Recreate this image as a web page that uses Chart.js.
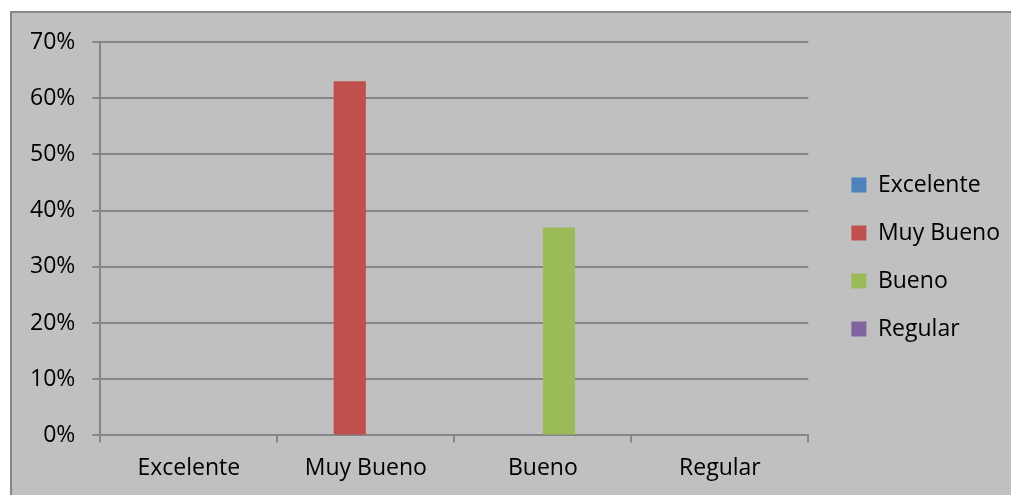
<!DOCTYPE html>
<html>
<head>
<meta charset="utf-8">
<script src="https://cdn.jsdelivr.net/npm/chart.js@4/dist/chart.umd.min.js"></script>
<style>
  html, body { margin: 0; padding: 0; background: #fff; }
  #wrap { position: relative; width: 1011px; height: 495px; }
</style>
</head>
<body>
<div id="wrap"><canvas id="chart"></canvas></div>
<script>
// --- Data ---
const categories = ['Excelente', 'Muy Bueno', 'Bueno', 'Regular'];
const seriesNames = ['Excelente', 'Muy Bueno', 'Bueno', 'Regular'];
const seriesColors = ['#4f81bd', '#c0504d', '#9bbb59', '#8064a2'];
// one value per category for each series (fractions)
const excelente = [0, 0, 0, 0];
const muyBueno = [0, 0.63, 0, 0];
const bueno = [0, 0, 0.37, 0];
const regular = [0, 0, 0, 0];
const yTicks = [0, 0.1, 0.2, 0.3, 0.4, 0.5, 0.6, 0.7];

const seriesValues = [excelente, muyBueno, bueno, regular];
const gridColor = '#868686';
const fontFamily = '"Open Sans", sans-serif';
const fontSize = 23;

// Grey panel with a border behind the whole chart
const panelBg = {
    id: 'panelBg',
    beforeDraw(chart) {
        const ctx = chart.ctx;
        ctx.save();
        ctx.fillStyle = '#c0c0c0';
        ctx.fillRect(11, 12, 1100, 600);
        ctx.strokeStyle = '#878787';
        ctx.lineWidth = 2;
        ctx.strokeRect(11, 12, 1100, 600);
        ctx.restore();
    }
};

// empty axes used only as spacers around the plot
const spacer = (prop, size) => ({
    display: true,
    grid: { display: false },
    border: { display: false },
    ticks: { display: false },
    afterFit(axis) { axis[prop] = size; }
});

const ctx = document.getElementById('chart').getContext('2d');

new Chart(ctx, {
    type: 'bar',
    data: {
        labels: categories,
        datasets: seriesNames.map((name, i) => ({
            label: name,
            data: seriesValues[i],
            backgroundColor: seriesColors[i],
            borderWidth: 0,
            xAxisID: 'x',
            yAxisID: 'y',
            categoryPercentage: 4 / 5.5,
            barPercentage: 1
        }))
    },
    options: {
        responsive: true,
        maintainAspectRatio: false,
        animation: false,
        layout: { padding: { left: 13, top: 20, right: 1, bottom: 1 } },
        scales: {
            x: {
                grid: {
                    color: gridColor,
                    lineWidth: 2,
                    drawOnChartArea: false,
                    drawTicks: true,
                    tickLength: 7,
                    offset: true
                },
                border: { color: gridColor, width: 2 },
                ticks: {
                    color: '#000',
                    font: { family: fontFamily, size: fontSize },
                    padding: 12
                }
            },
            y: {
                min: 0,
                max: 0.7,
                afterBuildTicks(axis) {
                    axis.ticks = yTicks.map(v => ({ value: v }));
                },
                grid: {
                    color: gridColor,
                    lineWidth: 2,
                    tickLength: 8
                },
                border: { color: gridColor, width: 2 },
                ticks: {
                    color: '#000',
                    font: { family: fontFamily, size: fontSize },
                    padding: 17,
                    callback: v => Math.round(v * 100) + '%'
                }
            },
            xTop: { type: 'category', position: 'top', ...spacer('height', 22) },
            yRight: { type: 'linear', position: 'right', ...spacer('width', 18) }
        },
        plugins: {
            legend: {
                position: 'right',
                maxWidth: 240,
                labels: {
                    color: '#000',
                    font: { family: fontFamily, size: fontSize },
                    boxWidth: 15,
                    boxHeight: 15,
                    padding: 25
                }
            },
            tooltip: { enabled: false }
        }
    },
    plugins: [panelBg]
});
</script>
</body>
</html>
